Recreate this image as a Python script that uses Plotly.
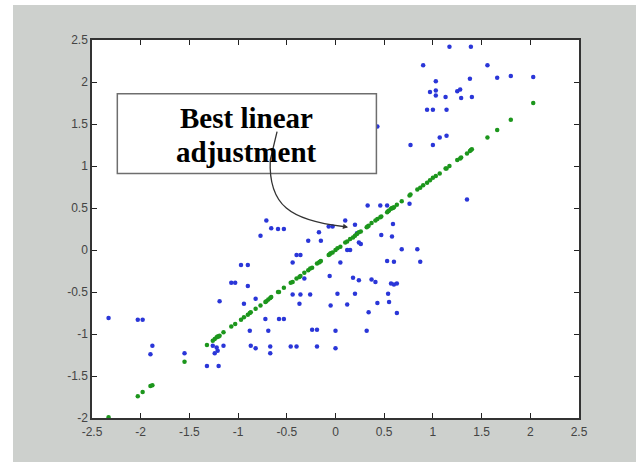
import plotly.graph_objects as go

blue_x = [-2.33, -2.03, -1.98, -1.88, -1.90, -1.55, -1.32, -1.20, -1.26, -1.22, -1.15, -1.24, -1.21,
          -1.19, -1.07, -1.03, -0.97, -0.90, -0.90, -0.94, -0.82, -0.88, -0.87, -0.82, -0.77, -0.71,
          -0.66, -0.59, -0.53, -0.72, -0.58, -0.53, -0.69, -0.67, -0.67, -0.46, -0.40, -0.19, 0.00,
          -0.24, -0.19, 0.00, 0.32, -0.37, -0.05, 0.12, 0.43, 0.55, 0.34, 0.63, -0.44, -0.36, -0.26,
          0.02, 0.20, 0.54, -0.32, -0.06, 0.18, 0.24, 0.37, 0.41, 0.57, 0.60, 0.63, -0.44, -0.40,
          -0.36, 0.05, 0.53, 0.60, 0.87, 0.12, 0.15, 0.68, 0.84, -0.28, -0.15, -0.17, 0.24, 0.26,
          0.47, 0.58, -0.07, -0.03, 0.10, 0.20, 0.22, 0.59, 0.33, 0.46, 0.53, 0.76, 1.35, 0.77, 1.00,
          1.07, 1.14, 0.94, 1.00, 1.14, 0.97, 1.03, 1.03, 1.13, 1.25, 1.28, 1.29, 1.40, 1.03, 0.90,
          1.56, 1.38, 1.66, 1.80, 2.03, 1.17, 1.39, -0.16, 0.00, 0.12, 0.43]
blue_y = [-0.81, -0.83, -0.83, -1.14, -1.24, -1.23, -1.38, -1.38, -1.14, -1.16, -1.14, -1.23, -1.20,
          -0.61, -0.39, -0.39, -0.18, -0.18, -0.43, -0.64, -0.58, -0.96, -1.14, -1.17, 0.17, 0.35,
          0.26, 0.25, 0.25, -0.82, -0.82, -0.82, -0.96, -1.15, -1.23, -1.15, -1.15, -1.15, -1.17,
          -0.95, -0.95, -0.96, -0.96, -0.64, -0.66, -0.65, -0.63, -0.62, -0.74, -0.75, -0.53, -0.53,
          -0.53, -0.52, -0.52, -0.52, -0.34, -0.31, -0.33, -0.36, -0.35, -0.38, -0.40, -0.41, -0.40,
          -0.15, -0.06, -0.06, -0.15, -0.13, -0.14, -0.14, 0.00, 0.00, 0.01, 0.01, 0.11, 0.11, 0.21,
          0.09, 0.07, 0.18, 0.16, 0.28, 0.28, 0.35, 0.30, 0.20, 0.31, 0.53, 0.53, 0.53, 0.55, 0.60,
          1.25, 1.25, 1.34, 1.36, 1.67, 1.67, 1.67, 1.88, 1.90, 1.84, 1.82, 1.89, 1.91, 1.81, 1.82,
          2.01, 2.20, 2.20, 2.04, 2.05, 2.07, 2.06, 2.42, 2.42, 1.65, 1.65, 1.47, 1.47]

# Fitted values (green)
fit_x = [-2.33, -2.03, -1.98, -1.90, -1.88, -1.55, -1.32, -1.26, -1.24, -1.22, -1.21, -1.20, -1.19,
         -1.15, -1.07, -1.03, -0.97, -0.94, -0.90, -0.88, -0.87, -0.82, -0.77, -0.72, -0.71, -0.69,
         -0.67, -0.66, -0.59, -0.58, -0.53, -0.46, -0.44, -0.40, -0.37, -0.36, -0.32, -0.28, -0.26,
         -0.24, -0.19, -0.17, -0.16, -0.15, -0.07, -0.06, -0.05, -0.03, 0.00, 0.02, 0.05, 0.10, 0.12,
         0.15, 0.18, 0.20, 0.22, 0.24, 0.26, 0.32, 0.33, 0.34, 0.37, 0.41, 0.43, 0.46, 0.47, 0.53,
         0.54, 0.55, 0.57, 0.58, 0.59, 0.60, 0.63, 0.68, 0.76, 0.77, 0.84, 0.87, 0.90, 0.94, 0.97,
         1.00, 1.03, 1.07, 1.13, 1.14, 1.17, 1.25, 1.28, 1.29, 1.35, 1.38, 1.39, 1.40, 1.56, 1.66,
         1.80, 2.03]
fit_y = [-1.99, -1.74, -1.69, -1.62, -1.61, -1.33, -1.13, -1.08, -1.06, -1.04, -1.03, -1.03, -1.02,
         -0.98, -0.91, -0.88, -0.83, -0.80, -0.77, -0.75, -0.74, -0.70, -0.66, -0.62, -0.61, -0.59,
         -0.57, -0.56, -0.50, -0.50, -0.45, -0.39, -0.38, -0.34, -0.32, -0.31, -0.27, -0.24, -0.22,
         -0.21, -0.16, -0.15, -0.14, -0.13, -0.06, -0.05, -0.04, -0.03, 0.00, 0.02, 0.04, 0.09, 0.10,
         0.13, 0.15, 0.17, 0.19, 0.21, 0.22, 0.27, 0.28, 0.29, 0.32, 0.35, 0.37, 0.39, 0.40, 0.45,
         0.46, 0.47, 0.49, 0.50, 0.50, 0.51, 0.54, 0.58, 0.65, 0.66, 0.72, 0.74, 0.77, 0.80, 0.83,
         0.86, 0.88, 0.91, 0.97, 0.97, 1.00, 1.07, 1.09, 1.10, 1.15, 1.18, 1.19, 1.20, 1.34, 1.43,
         1.55, 1.75]

x_ticks = [-2.5, -2, -1.5, -1, -0.5, 0, 0.5, 1, 1.5, 2, 2.5]
y_ticks = [-2, -1.5, -1, -0.5, 0, 0.5, 1, 1.5, 2, 2.5]
label_lines = ["Best linear", "adjustment"]

fig = go.Figure()
fig.add_trace(go.Scatter(x=blue_x, y=blue_y, mode="markers",
                         marker=dict(color="#2a36d8", size=4.5, symbol="circle"),
                         showlegend=False, hoverinfo="skip"))
fig.add_trace(go.Scatter(x=fit_x, y=fit_y, mode="markers",
                         marker=dict(color="#1c961c", size=4.5, symbol="circle"),
                         showlegend=False, hoverinfo="skip"))

# Annotation box
fig.add_shape(type="rect", xref="x", yref="y", x0=-2.24, x1=0.42, y0=0.91, y1=1.86,
              line=dict(color="#6e6e6e", width=1.5), fillcolor="white", layer="above")

for txt, yy in zip(label_lines, [1.57, 1.17]):
    fig.add_annotation(x=-0.91, y=yy, xref="x", yref="y", text=txt, showarrow=False,
                       font=dict(family="Liberation Serif", size=29, color="black", weight="bold"))

# Curved connector
fig.add_shape(type="path", xref="x", yref="y",
              path="M -0.60,1.41 L -0.67,1.07 C -0.69,0.53 -0.46,0.35 0.08,0.28",
              line=dict(color="#333333", width=1.3), layer="above")
fig.add_annotation(x=0.13, y=0.27, ax=0.06, ay=0.285, xref="x", yref="y", axref="x", ayref="y",
                   text="", showarrow=True, arrowhead=2, arrowsize=0.8, arrowwidth=1.3,
                   arrowcolor="#333333")

# White outer strips (left and top)
fig.add_shape(type="rect", xref="paper", yref="paper", x0=-0.2, x1=-0.1622, y0=-0.2, y1=1.2,
              fillcolor="white", line=dict(width=0), layer="below")
fig.add_shape(type="rect", xref="paper", yref="paper", x0=-0.2, x1=1.2, y0=1.0925, y1=1.2,
              fillcolor="white", line=dict(width=0), layer="below")

axis_common = dict(showgrid=False, zeroline=False, ticks="inside", ticklen=5, tickwidth=1,
                   tickcolor="#222", showline=True, linecolor="#333", linewidth=1.5,
                   mirror="ticks", tickfont=dict(family="Liberation Sans", size=12, color="#444"))

fig.update_xaxes(range=[-2.5, 2.5], tickvals=x_ticks, ticktext=[f"{v:g}" for v in x_ticks],
                 ticklabelstandoff=2, **axis_common)
fig.update_yaxes(range=[-2, 2.5], tickvals=y_ticks, ticktext=[f"{v:g}" for v in y_ticks],
                 **axis_common)

fig.update_layout(width=636, height=462, margin=dict(l=92, r=57, t=40, b=44, pad=0),
                  paper_bgcolor="#cdd0cd", plot_bgcolor="white")

fig.write_html("out.html", config={"displayModeBar": False},
               post_script="document.body.style.margin='0';")
